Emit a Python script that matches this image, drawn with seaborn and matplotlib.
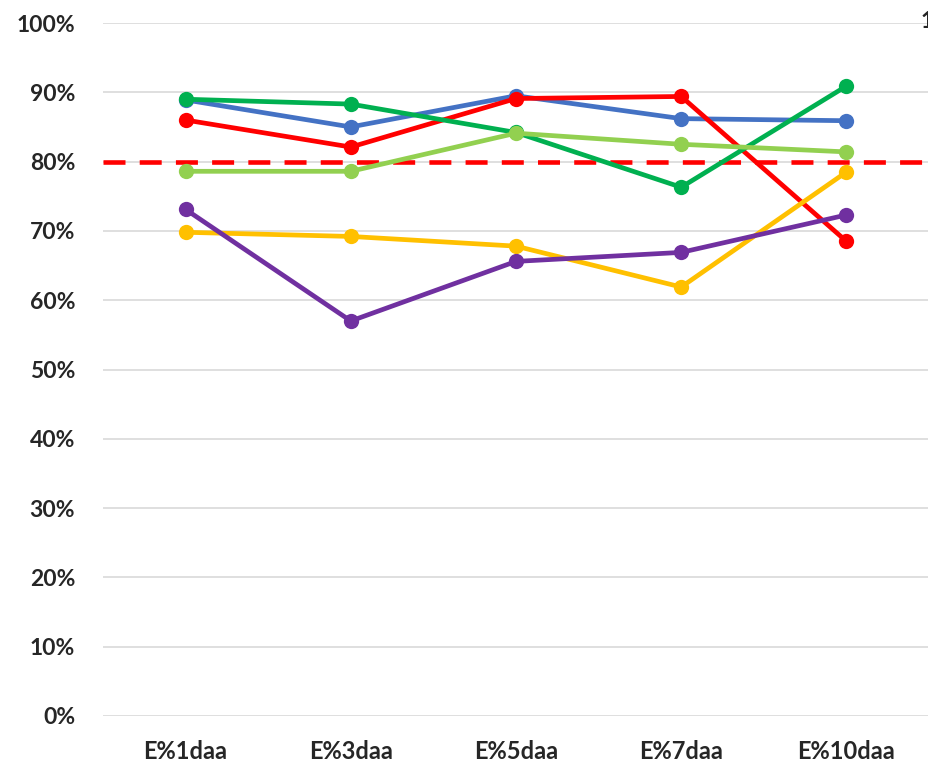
import pandas as pd
import matplotlib.pyplot as plt
import seaborn as sns
from matplotlib.ticker import PercentFormatter

sns.set_style("white")
plt.rcParams['font.family'] = ['Lato', 'DejaVu Sans']

# data
days = ["E%1daa", "E%3daa", "E%5daa", "E%7daa", "E%10daa"]
blue = [0.889, 0.850, 0.895, 0.862, 0.859]
red = [0.860, 0.821, 0.891, 0.894, 0.685]
green = [0.890, 0.883, 0.842, 0.763, 0.909]
light_green = [0.786, 0.786, 0.841, 0.825, 0.814]
yellow = [0.698, 0.692, 0.678, 0.619, 0.785]
purple = [0.731, 0.570, 0.656, 0.669, 0.723]
threshold = 0.80

series = {"blue": blue, "red": red, "green": green,
          "light_green": light_green, "yellow": yellow, "purple": purple}
colors = {"blue": "#4472C4", "red": "#FF0000", "green": "#00B050",
          "light_green": "#92D050", "yellow": "#FFC000", "purple": "#7030A0"}

rows = []
for name, vals in series.items():
    for d, v in zip(days, vals):
        rows.append({"day": d, "value": v, "series": name})
df = pd.DataFrame(rows)

fig = plt.figure(figsize=(9.29, 7.67), dpi=100)
ax = fig.add_axes([103 / 929, 51 / 767, 826 / 929, 693 / 767])

# gridlines
ax.set_ylim(0, 1.0)
ax.set_yticks([i / 10 for i in range(11)])
ax.yaxis.grid(True, color="#D9D9D9", linewidth=1.2, zorder=0)
ax.set_axisbelow(True)

ax.axhline(threshold, color="#FF0000", linewidth=3.3, linestyle=(0, (4.8, 3.1)), zorder=1)

sns.lineplot(data=df, x="day", y="value", hue="series", palette=colors,
             marker="o", markersize=11, markeredgewidth=0, linewidth=3.4,
             sort=False, legend=False, ax=ax, zorder=3)

ax.set_xlim(-0.5, 4.5)
ax.yaxis.set_major_formatter(PercentFormatter(1.0, decimals=0))
ax.set_xlabel("")
ax.set_ylabel("")
for s in ax.spines.values():
    s.set_visible(False)
ax.tick_params(axis="y", length=0, pad=20, labelsize=16.5)
ax.tick_params(axis="x", length=0, pad=17, labelsize=17)
for lab in ax.get_xticklabels() + ax.get_yticklabels():
    lab.set_fontweight("bold")

# clipped label at the right edge
fig.text(921 / 929, 1 - 22 / 767, "100%", fontsize=16.5, fontweight="bold", va="center")

plt.savefig("out.png", dpi=100)
